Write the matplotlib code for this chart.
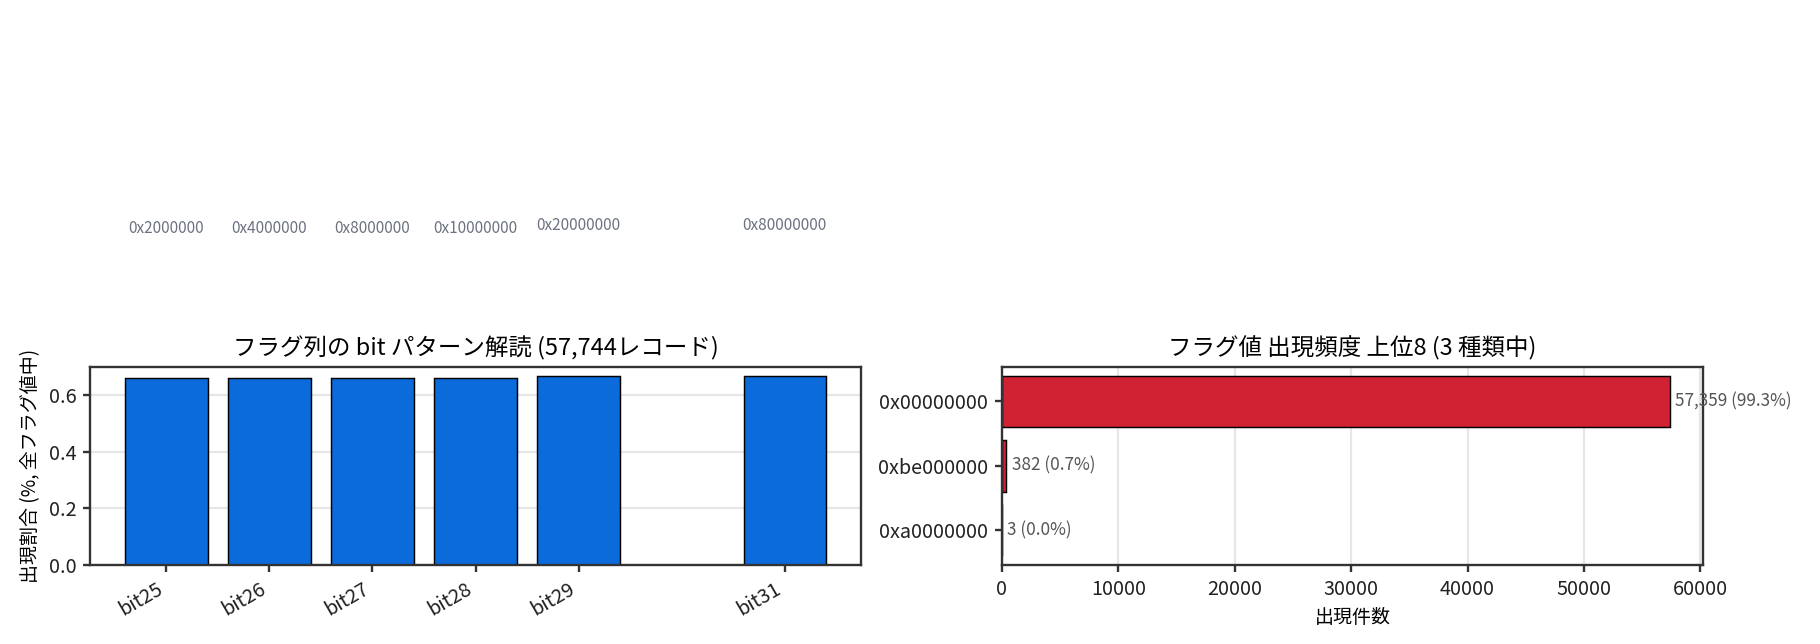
import matplotlib
matplotlib.use("Agg")
import matplotlib.pyplot as plt
import numpy as np

plt.rcParams['font.family'] = ['Noto Sans CJK JP', 'DejaVu Sans']

# =========================
# データ
# =========================
bit_labels = ['bit25', 'bit26', 'bit27', 'bit28', 'bit29', 'bit31']
bit_pos = [25, 26, 27, 28, 29, 31]
bit_hex = ['0x2000000', '0x4000000', '0x8000000', '0x10000000', '0x20000000', '0x80000000']
bit_ratio = [0.658, 0.658, 0.658, 0.658, 0.666, 0.666]

flag_vals = ['0x00000000', '0xbe000000', '0xa0000000']
flag_counts = [57359, 382, 3]
flag_pct = [99.3, 0.7, 0.0]
n_records = 57744
n_kinds = 3

BLUE = '#0b6bdb'
RED = '#d02232'
SPINE = '#333333'


def style_ax(ax):
    for s in ax.spines.values():
        s.set_color(SPINE)
        s.set_linewidth(1.3)
    ax.tick_params(colors=SPINE, labelcolor='#222222', width=1.3, length=4, labelsize=11)
    ax.set_axisbelow(True)


fig = plt.figure(figsize=(14, 644 / 130), dpi=130)
ax1 = fig.add_axes([0.0495, 0.1227, 0.4236, 0.3079])
ax2 = fig.add_axes([0.5505, 0.1227, 0.3852, 0.3079])

# --- 左: bit パターン ---
x = np.array(bit_pos) - bit_pos[0]
ax1.bar(x, bit_ratio, width=0.8, color=BLUE, edgecolor='black', linewidth=0.8)
ax1.set_xticks(x)
ax1.set_xticklabels(bit_labels, rotation=30, ha='right')
ax1.set_ylabel('出現割合 (%, 全フラグ値中)', fontsize=10.5)
ax1.set_title(f'フラグ列の bit パターン解読 ({n_records:,}レコード)', fontsize=13)
ax1.grid(True, axis='y', color='#e6e6e6', linewidth=1.2)
for xi, h, lab in zip(x, bit_ratio, bit_hex):
    ax1.text(xi, h + 0.5, lab, ha='center', va='bottom', fontsize=8.5, color='#6b7280', clip_on=False)
style_ax(ax1)

# --- 右: フラグ値 出現頻度 ---
y = np.arange(len(flag_vals))
ax2.barh(y, flag_counts, height=0.8, color=RED, edgecolor='black', linewidth=0.8)
ax2.set_yticks(y)
ax2.set_yticklabels(flag_vals)
ax2.invert_yaxis()
ax2.set_xlim(0, max(flag_counts) * 1.05)
ax2.set_xlabel('出現件数', fontsize=10.5)
ax2.set_title(f'フラグ値 出現頻度 上位8 ({n_kinds} 種類中)', fontsize=13)
ax2.grid(True, axis='x', color='#e6e6e6', linewidth=1.2)
off = max(flag_counts) * 0.008
for yi, c, p in zip(y, flag_counts, flag_pct):
    ax2.text(c + off, yi, f'{c:,} ({p:.1f}%)', va='center', ha='left', fontsize=9.5, color='#555555')
style_ax(ax2)

fig.savefig('out.png', dpi=130)
